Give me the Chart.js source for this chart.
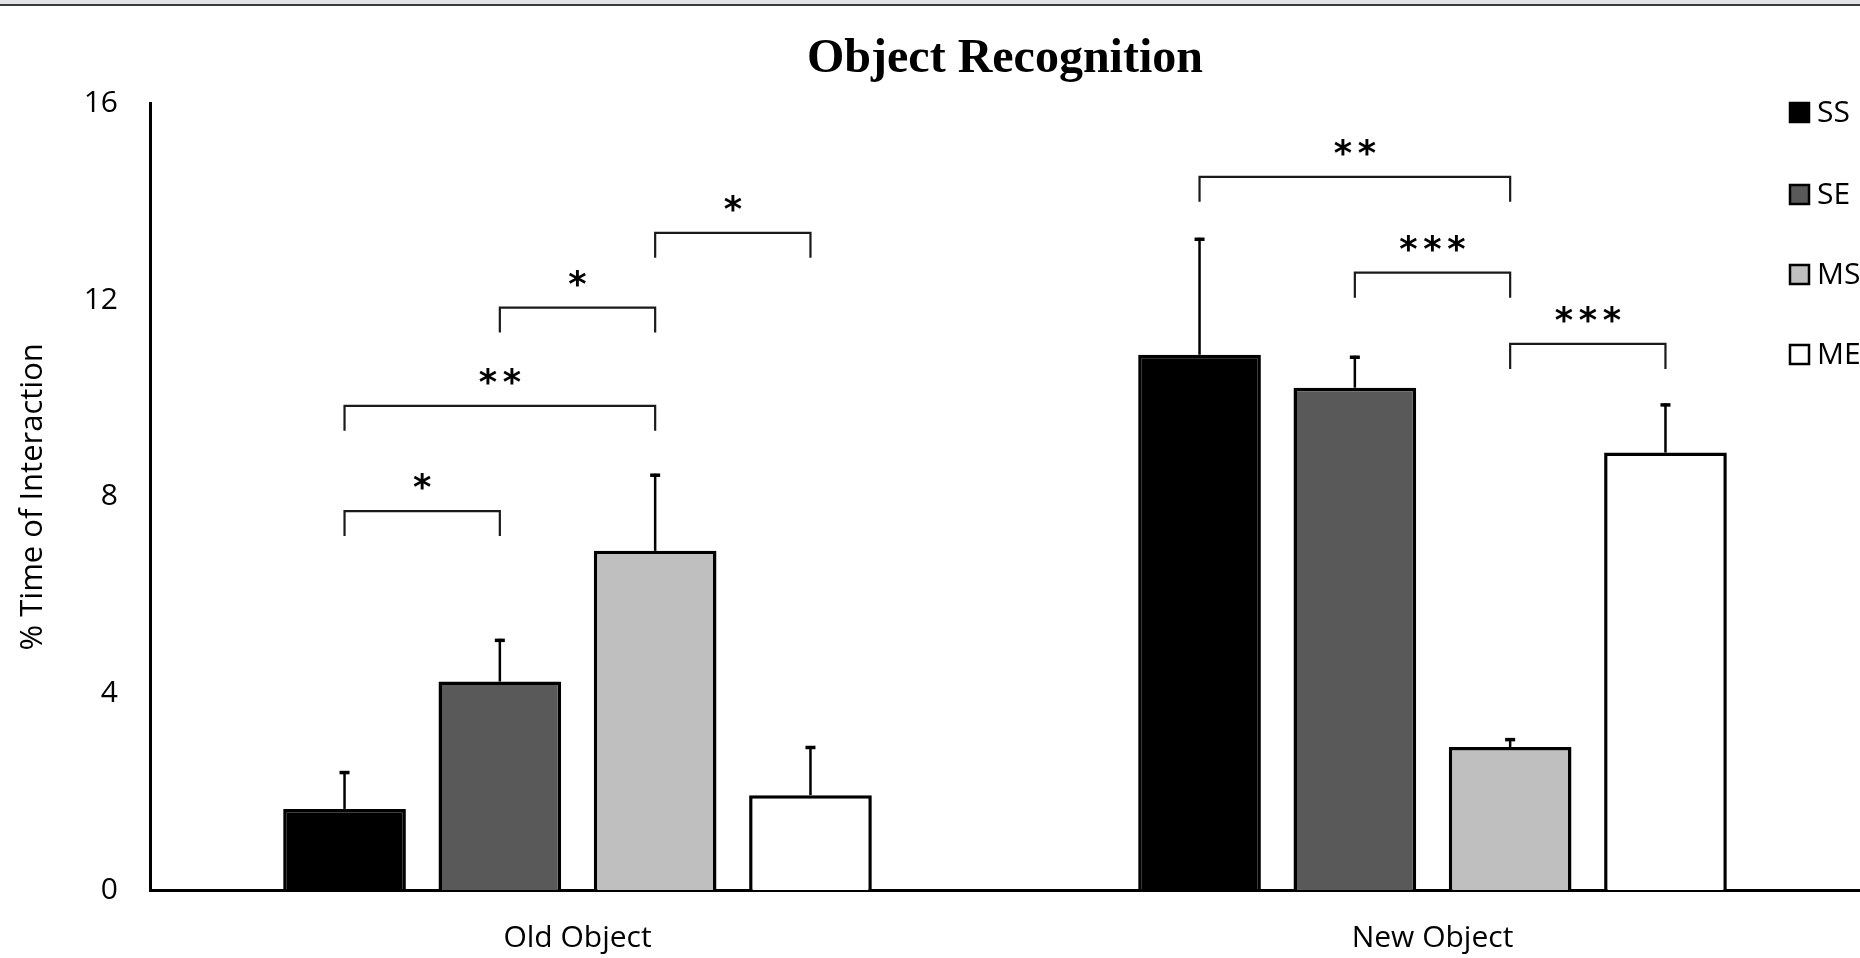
<!DOCTYPE html>
<html>
<head>
<meta charset="utf-8">
<script src="https://cdn.jsdelivr.net/npm/chart.js@4.4.0/dist/chart.umd.min.js"></script>
<style>
  html, body { margin: 0; padding: 0; background: #fff; overflow: hidden; }
  #wrap { position: relative; width: 1860px; height: 958px; }
  #topbar { position: absolute; left: 0; top: 0; width: 100%; height: 4px; background: #e2e3e6; border-bottom: 2px solid #3a3a3a; z-index: 2; }
</style>
</head>
<body>
<div id="wrap">
  <div id="topbar"></div>
  <canvas id="chart"></canvas>
</div>
<script>
const categories = ["Old Object", "New Object"];
const seriesNames = ["SS", "SE", "MS", "ME"];
const seriesColors = ["#000000", "#595959", "#bfbfbf", "#ffffff"];
const ssValues = [1.65, 10.89];
const seValues = [4.24, 10.22];
const msValues = [6.90, 2.91];
const meValues = [1.93, 8.90];
const ssErrors = [0.77, 2.38];
const seErrors = [0.87, 0.65];
const msErrors = [1.57, 0.18];
const meErrors = [1.00, 1.00];
const yTicks = [0, 4, 8, 12, 16];

// significance brackets: category, from series, to series, height (y units), stars
const bracketCategory = [0, 0, 0, 0, 1, 1, 1];
const bracketFrom = [0, 0, 1, 2, 0, 1, 2];
const bracketTo = [1, 2, 2, 3, 2, 2, 3];
const bracketLevel = [7.71, 9.85, 11.85, 13.37, 14.51, 12.56, 11.11];
const bracketStars = ["*", "**", "*", "*", "**", "***", "***"];

const allValues = [ssValues, seValues, msValues, meValues];
const allErrors = [ssErrors, seErrors, msErrors, meErrors];

const FONT = "'Open Sans', sans-serif";
Chart.defaults.font.family = FONT;
Chart.defaults.color = "#000";

const errorBars = {
  id: "errorBars",
  afterDatasetsDraw(chart) {
    const ctx = chart.ctx;
    const y = chart.scales.y;
    ctx.save();
    ctx.strokeStyle = "#000";
    chart.data.datasets.forEach((ds, i) => {
      const meta = chart.getDatasetMeta(i);
      meta.data.forEach((bar, j) => {
        const top = y.getPixelForValue(allValues[i][j] + allErrors[i][j]);
        ctx.lineWidth = 2.5;
        ctx.beginPath();
        ctx.moveTo(bar.x, bar.y);
        ctx.lineTo(bar.x, top);
        ctx.stroke();
        ctx.lineWidth = 3.5;
        ctx.beginPath();
        ctx.moveTo(bar.x - 5, top + 1.5);
        ctx.lineTo(bar.x + 5, top + 1.5);
        ctx.stroke();
      });
    });
    ctx.restore();
  }
};

const brackets = {
  id: "brackets",
  afterDatasetsDraw(chart) {
    const ctx = chart.ctx;
    const y = chart.scales.y;
    ctx.save();
    ctx.strokeStyle = "#1a1a1a";
    ctx.lineWidth = 2.2;
    ctx.fillStyle = "#000";
    ctx.font = "bold 35px 'DejaVu Sans', sans-serif";
    ctx.textAlign = "center";
    ctx.textBaseline = "alphabetic";
    for (let k = 0; k < bracketLevel.length; k++) {
      const c = bracketCategory[k];
      const x1 = chart.getDatasetMeta(bracketFrom[k]).data[c].x;
      const x2 = chart.getDatasetMeta(bracketTo[k]).data[c].x;
      const ly = y.getPixelForValue(bracketLevel[k]);
      ctx.beginPath();
      ctx.moveTo(x1, ly + 25);
      ctx.lineTo(x1, ly);
      ctx.lineTo(x2, ly);
      ctx.lineTo(x2, ly + 25);
      ctx.stroke();
      const n = bracketStars[k].length;
      const cx = (x1 + x2) / 2;
      for (let s = 0; s < n; s++) {
        const sx = cx + (s - (n - 1) / 2) * 24;
        ctx.fillText("*", sx, ly - 12);
      }
    }
    ctx.restore();
  }
};

const sideLegend = {
  id: "sideLegend",
  afterDraw(chart) {
    const ctx = chart.ctx;
    const centers = [112, 194, 274, 354];
    ctx.save();
    ctx.font = "30px " + FONT;
    ctx.textBaseline = "middle";
    ctx.textAlign = "left";
    chart.data.datasets.forEach((ds, i) => {
      const cy = centers[i];
      ctx.fillStyle = ds.backgroundColor;
      ctx.fillRect(1789, cy - 10, 21, 21);
      ctx.strokeStyle = "#000";
      ctx.lineWidth = 2.5;
      ctx.strokeRect(1790, cy - 9, 19, 19);
      ctx.fillStyle = "#000";
      ctx.fillText(ds.label, 1817, cy + 1);
    });
    ctx.restore();
  }
};

new Chart(document.getElementById("chart"), {
  type: "bar",
  data: {
    labels: categories,
    datasets: seriesNames.map((name, i) => ({
      label: name,
      data: allValues[i],
      backgroundColor: seriesColors[i],
      borderColor: "#000",
      borderWidth: 3.5,
      borderSkipped: "bottom",
      categoryPercentage: 0.7266,
      barPercentage: 0.79
    }))
  },
  options: {
    responsive: true,
    maintainAspectRatio: false,
    devicePixelRatio: 1,
    animation: false,
    layout: { padding: { left: 0, right: 0, top: 0, bottom: 0 } },
    plugins: {
      legend: { display: false },
      tooltip: { enabled: false },
      title: {
        display: true,
        text: "Object Recognition",
        fullSize: false,
        color: "#000",
        font: { family: "'Liberation Serif', 'Times New Roman', serif", size: 48, weight: "bold", lineHeight: 1.2 },
        padding: { top: 31, bottom: 15 }
      }
    },
    scales: {
      x: {
        z: 1,
        grid: { display: false, drawTicks: false },
        border: { display: true, color: "#000", width: 3 },
        ticks: { color: "#000", font: { size: 30 }, padding: 30 },
        afterFit(scale) { scale.height = 68; }
      },
      y: {
        z: 1,
        min: 0,
        max: 16,
        grid: { display: false, drawTicks: false },
        border: { display: true, color: "#000", width: 3 },
        afterBuildTicks(scale) { scale.ticks = yTicks.map(v => ({ value: v })); },
        ticks: { color: "#000", font: { size: 30 }, padding: 32 },
        title: {
          display: true,
          text: "% Time of Interaction",
          color: "#000",
          font: { size: 31, lineHeight: 1.2 },
          padding: { top: 15, bottom: 0 }
        },
        afterFit(scale) { scale.width = 150; }
      }
    }
  },
  plugins: [errorBars, brackets, sideLegend]
});
</script>
</body>
</html>
